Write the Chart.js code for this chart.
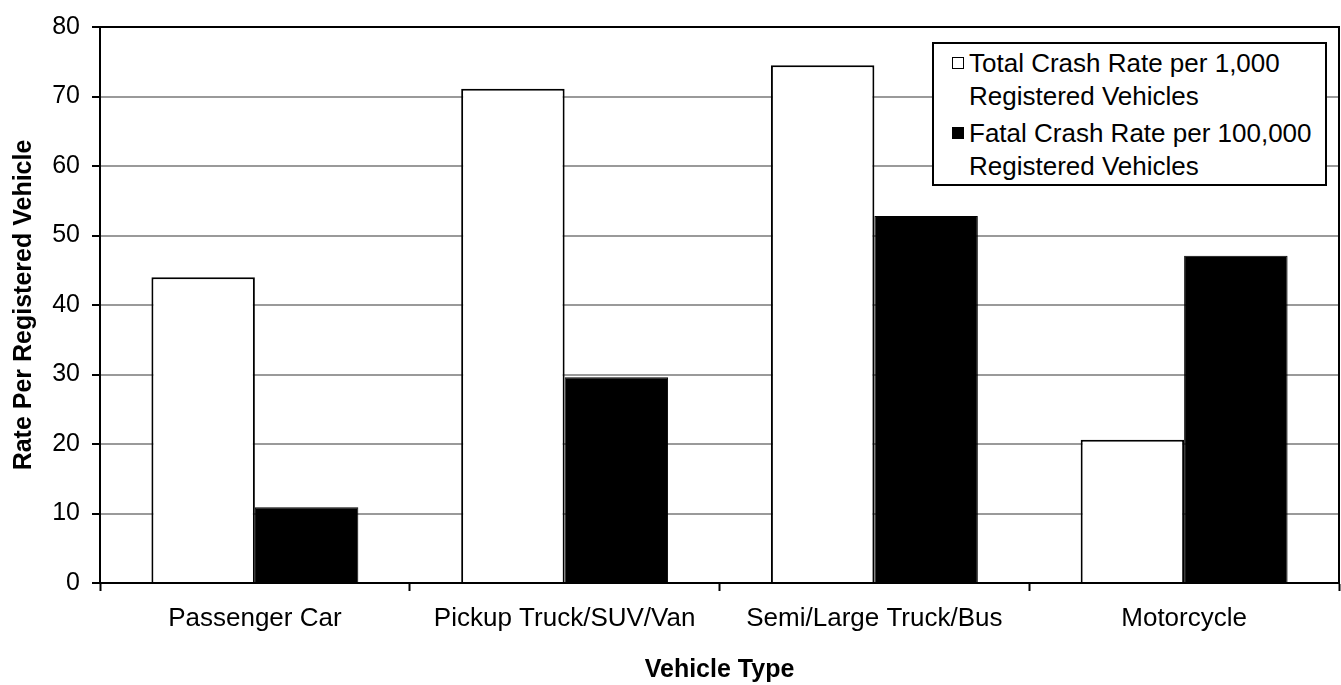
<!DOCTYPE html>
<html>
<head>
<meta charset="utf-8">
<script src="https://cdn.jsdelivr.net/npm/chart.js@4.4.0/dist/chart.umd.min.js"></script>
<style>
  html, body { margin: 0; padding: 0; background: #fff; }
  #wrap { position: relative; width: 1341px; height: 685px; }
  #legend {
    position: absolute; left: 932px; top: 42px; width: 395px; height: 144px;
    box-sizing: border-box; border: 2px solid #000; background: #fff;
    padding-top: 3px;
    font-family: "Liberation Sans", Arial, sans-serif; font-size: 26px; line-height: 33px; color: #000;
  }
  #legend .item { display: flex; margin-bottom: 4px; }
  #legend .box { width: 12px; height: 12px; box-sizing: border-box; border: 1.5px solid #000;
    margin: 10px 5px 0 18px; flex: none; }
</style>
</head>
<body>
<div id="wrap">
  <canvas id="chart" width="1341" height="685"></canvas>
  <div id="legend"></div>
</div>
<script>
// Vehicle crash rates
const categories = ['Passenger Car', 'Pickup Truck/SUV/Van', 'Semi/Large Truck/Bus', 'Motorcycle'];
const totalRate = [44.0, 71.1, 74.5, 20.6];
const fatalRate = [10.9, 29.6, 52.8, 47.1];
const seriesLabels = ['Total Crash Rate per 1,000\nRegistered Vehicles', 'Fatal Crash Rate per 100,000\nRegistered Vehicles'];
const yTicks = [0, 10, 20, 30, 40, 50, 60, 70, 80];

const FONT = '"Liberation Sans", Arial, sans-serif';

// black frame round the plot area
const frame = {
  id: 'frame',
  afterDatasetsDraw(chart) {
    const a = chart.chartArea;
    const ctx = chart.ctx;
    ctx.save();
    ctx.strokeStyle = '#000';
    ctx.lineWidth = 2;
    ctx.beginPath();
    ctx.moveTo(a.left, a.top);
    ctx.lineTo(a.right, a.top);
    ctx.lineTo(a.right, a.bottom);
    ctx.stroke();
    ctx.restore();
  }
};

const chart = new Chart(document.getElementById('chart'), {
  type: 'bar',
  data: {
    labels: categories,
    datasets: [{
      label: seriesLabels[0],
      data: totalRate,
      backgroundColor: '#fff',
      borderColor: '#000',
      borderWidth: 2
    }, {
      label: seriesLabels[1],
      data: fatalRate,
      backgroundColor: '#000',
      borderColor: '#000',
      borderWidth: 1
    }]
  },
  options: {
    responsive: false,
    animation: false,
    layout: { padding: { top: 24, right: 2, left: 0, bottom: 0 } },
    plugins: {
      legend: { display: false },
      tooltip: { enabled: false }
    },
    datasets: {
      bar: { categoryPercentage: 0.668, barPercentage: 1.0 }
    },
    scales: {
      x: {
        afterFit(s) { s.height = 102; },
        grid: { drawOnChartArea: false, tickLength: 8, tickColor: '#000', tickWidth: 2 },
        border: { color: '#000', width: 2 },
        ticks: { color: '#000', padding: 12, font: { family: FONT, size: 26 }, maxRotation: 0 },
        title: {
          display: true, text: 'Vehicle Type', color: '#000',
          font: { family: FONT, size: 25, weight: 'bold' },
          padding: { top: 0, bottom: 0 }
        }
      },
      y: {
        min: 0, max: 80,
        afterFit(s) { s.width = 100; },
        afterBuildTicks(s) { s.ticks = yTicks.map(v => ({ value: v })); },
        grid: { color: '#9a9a9a', lineWidth: 2, tickLength: 8, tickColor: '#000', tickWidth: 2 },
        border: { color: '#000', width: 2 },
        ticks: { color: '#000', padding: 12, font: { family: FONT, size: 25 } },
        title: {
          display: true, text: 'Rate Per Registered Vehicle', color: '#000',
          font: { family: FONT, size: 25, weight: 'bold' },
          padding: { top: 9, bottom: 0 }
        }
      }
    }
  },
  plugins: [frame]
});

// HTML legend built from the datasets
const legendEl = document.getElementById('legend');
chart.data.datasets.forEach(ds => {
  const item = document.createElement('div');
  item.className = 'item';
  const box = document.createElement('span');
  box.className = 'box';
  box.style.background = ds.backgroundColor;
  const txt = document.createElement('span');
  txt.innerHTML = ds.label.split('\n').join('<br>');
  item.appendChild(box);
  item.appendChild(txt);
  legendEl.appendChild(item);
});
</script>
</body>
</html>
